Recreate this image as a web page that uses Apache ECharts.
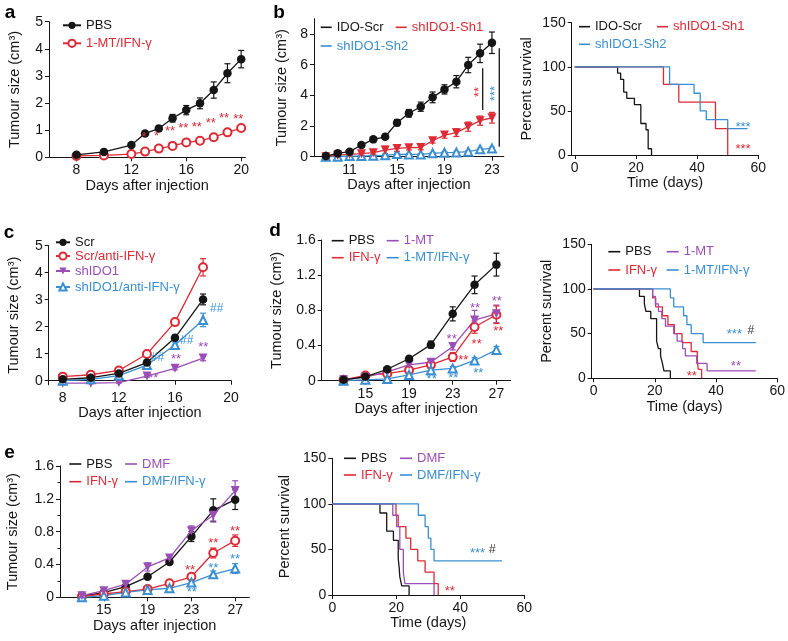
<!DOCTYPE html>
<html><head><meta charset="utf-8">
<script src="https://cdn.jsdelivr.net/npm/echarts@6/dist/echarts.min.js"></script>
<style>html,body{margin:0;padding:0;background:#fff}#c{width:788px;height:641px}</style>
</head><body><div id="c"></div>
<script>
// ---------------- DATA ----------------
// panel a
const aDays = [8, 10, 12, 13, 14, 15, 16, 17, 18, 19, 20];
const aPBS = [0.09, 0.2, 0.45, 0.88, 1.06, 1.44, 1.74, 1.99, 2.48, 3.1, 3.62];
const aPBSErr = [0.03, 0.04, 0.05, 0.07, 0.1, 0.14, 0.17, 0.2, 0.3, 0.35, 0.32];
const aMT = [0.05, 0.07, 0.12, 0.21, 0.32, 0.42, 0.55, 0.61, 0.74, 0.92, 1.08];
const aMTErr = [0.02, 0.02, 0.03, 0.05, 0.05, 0.05, 0.05, 0.06, 0.07, 0.08, 0.1];
const aStars = [[12.92, 0.85, '*'], [13.84, 0.89, '*'], [14.81, 1.07, '**'], [15.78, 1.19, '**'], [16.76, 1.23, '**'], [17.78, 1.35, '**'], [18.75, 1.56, '**'], [19.79, 1.5, '**']];
const aXTicks = [8, 12, 16, 20];
const aYTicks = [0, 1, 2, 3, 4, 5];

// panel b (growth)
const bDays = [9, 10, 11, 12, 13, 14, 15, 16, 17, 18, 19, 20, 21, 22, 23];
const bScr = [0.04, 0.22, 0.33, 0.76, 1.13, 1.3, 2.22, 2.83, 3.26, 3.87, 4.39, 4.89, 5.98, 6.74, 7.43];
const bScrErr = [0.05, 0.08, 0.1, 0.1, 0.12, 0.15, 0.2, 0.25, 0.3, 0.35, 0.3, 0.4, 0.5, 0.6, 0.7];
const bSh1 = [0.0, 0.1, 0.15, 0.2, 0.26, 0.43, 0.54, 0.59, 0.6, 1.04, 1.41, 1.57, 1.96, 2.35, 2.54];
const bSh1Err = [0.05, 0.05, 0.08, 0.1, 0.1, 0.25, 0.2, 0.15, 0.15, 0.15, 0.2, 0.25, 0.3, 0.3, 0.35];
const bSh2 = [0.0, 0.0, 0.04, 0.04, 0.07, 0.09, 0.17, 0.15, 0.15, 0.22, 0.26, 0.28, 0.33, 0.48, 0.54];
const bSh2Err = [0.03, 0.03, 0.03, 0.03, 0.04, 0.04, 0.05, 0.05, 0.05, 0.05, 0.06, 0.06, 0.06, 0.07, 0.08];
const bSigLines = [[22.22, 3.05, 5.77], [23.62, 0.65, 7.07]];
const bStarsRed = [[21.66, 4.22, '**']];
const bStarsBlue = [[23.07, 4.12, '***']];
const bXTicks = [11, 15, 19, 23];
const bYTicks = [0, 2, 4, 6, 8];

// panel b (survival)
const bsScrT = [0, 14, 15, 16, 17, 19.5, 21.6, 23.3, 24, 25.1];
const bsScrV = [100, 92.9, 85.7, 71.4, 64.3, 57.1, 35.7, 28.6, 7.1, 0];
const bsSh1T = [0, 29, 34, 46, 50];
const bsSh1V = [100, 80, 60, 30, 0];
const bsSh2T = [0, 31, 39, 41, 43, 50, 56.5];
const bsSh2V = [100, 80, 70, 50, 40, 30, 30];
const bsStarsBlue = [[55, 35.1, '***']];
const bsStarsRed = [[55, 9.4, '***']];
const survXTicks = [0, 20, 40, 60];
const survYTicks = [0, 50, 100, 150];

// panel c
const cDays = [8, 10, 12, 14, 16, 18];
const cScr = [0.05, 0.11, 0.27, 0.67, 1.59, 3.01];
const cScrErr = [0.03, 0.03, 0.05, 0.08, 0.1, 0.2];
const cScrAnti = [0.15, 0.22, 0.38, 0.99, 2.17, 4.2];
const cScrAntiErr = [0.03, 0.04, 0.05, 0.08, 0.12, 0.32];
const cSh = [-0.09, -0.09, -0.07, 0.17, 0.46, 0.84];
const cShErr = [0.02, 0.02, 0.02, 0.04, 0.06, 0.1];
const cShAnti = [0.0, 0.05, 0.19, 0.58, 1.32, 2.25];
const cShAntiErr = [0.03, 0.03, 0.05, 0.1, 0.12, 0.25];
const cHash = [[14.75, 0.85, '##'], [16.84, 1.47, '##'], [18.97, 2.67, '##']];
const cStars = [[14.46, 0.19, '**'], [16.07, 0.91, '**'], [18.02, 1.35, '**']];
const cXTicks = [8, 12, 16, 20];
const cYTicks = [0, 1, 2, 3, 4, 5];

// panel d (growth)
const dDays = [13, 15, 17, 19, 21, 23, 25, 27];
const dPBS = [0.01, 0.045, 0.13, 0.25, 0.41, 0.76, 1.09, 1.32];
const dPBSErr = [0.005, 0.01, 0.015, 0.02, 0.04, 0.08, 0.1, 0.13];
const dMT = [0.01, 0.04, 0.1, 0.18, 0.21, 0.39, 0.69, 0.76];
const dMTErr = [0.005, 0.01, 0.02, 0.02, 0.03, 0.04, 0.11, 0.1];
const dIFN = [0.01, 0.06, 0.08, 0.12, 0.18, 0.27, 0.61, 0.75];
const dIFNErr = [0.005, 0.01, 0.01, 0.02, 0.03, 0.05, 0.07, 0.1];
const dCombo = [0.0, 0.01, 0.02, 0.065, 0.12, 0.14, 0.23, 0.35];
const dComboErr = [0.005, 0.005, 0.01, 0.01, 0.02, 0.02, 0.03, 0.04];
const dStarsP = [[22.9, 0.5, '**'], [25.04, 0.86, '**'], [27.03, 0.93, '**']];
const dStarsR = [[23.97, 0.27, '**'], [25.19, 0.45, '**'], [27.17, 0.6, '**']];
const dStarsB = [[21.07, 0.05, '**'], [23.05, 0.06, '**'], [25.34, 0.12, '**']];
const deXTicks = [15, 19, 23, 27];
const deYTicks = [0, 0.4, 0.8, 1.2, 1.6];

// panel d (survival)
const dsPBST = [0, 15, 16.6, 17.1, 18.7, 20.6, 21.2, 21.9, 22.5, 23, 25.1];
const dsPBSV = [100, 91.7, 83.3, 75, 66.7, 41.7, 33.3, 25, 16.7, 8.3, 0];
const dsMTT = [0, 19.3, 20.2, 21.2, 22.3, 23.5, 26.2, 27.3, 29.1, 30, 33.7, 37.1, 53];
const dsMTV = [100, 91.7, 83.3, 75, 66.7, 58.3, 50, 41.7, 33.3, 25, 16.7, 8.3, 8.3];
const dsIFNT = [0, 19.3, 20.3, 22.5, 24.3, 26.4, 28.9, 31.9, 33.9, 34.2, 35.3];
const dsIFNV = [100, 90, 80, 70, 60, 50, 40, 30, 20, 10, 0];
const dsComboT = [0, 25.1, 26.2, 29.4, 30.5, 31.9, 35.8, 53];
const dsComboV = [100, 90, 80, 70, 60, 50, 40, 40];
const dsStarsB = [[46, 52, '***']];
const dsHash = [[51.4, 53, '#']];
const dsStarsP = [[46.5, 16.8, '**']];
const dsStarsR = [[32.1, 5.6, '**']];

// panel e (growth)
const eDays = [13, 15, 17, 19, 21, 23, 25, 27];
const ePBS = [0.016, 0.057, 0.13, 0.25, 0.43, 0.74, 1.06, 1.19];
const ePBSErr = [0.005, 0.01, 0.02, 0.02, 0.03, 0.06, 0.14, 0.12];
const eDMF = [0.02, 0.08, 0.16, 0.37, 0.48, 0.81, 1.0, 1.3];
const eDMFErr = [0.005, 0.01, 0.02, 0.05, 0.04, 0.06, 0.07, 0.12];
const eIFN = [0.01, 0.04, 0.07, 0.1, 0.17, 0.25, 0.54, 0.69];
const eIFNErr = [0.005, 0.01, 0.01, 0.01, 0.02, 0.03, 0.06, 0.07];
const eCombo = [0.0, 0.02, 0.06, 0.09, 0.11, 0.18, 0.28, 0.35];
const eComboErr = [0.005, 0.01, 0.01, 0.01, 0.02, 0.02, 0.04, 0.06];
const eStarsR = [[22.87, 0.37, '**'], [25.0, 0.69, '**'], [26.98, 0.84, '**']];
const eStarsB = [[23.03, 0.09, '**'], [25.0, 0.39, '**'], [26.98, 0.5, '**']];

// panel e (survival)
const esPBST = [0, 14.9, 17, 19.1, 20.6, 20.9, 21.1, 21.7, 24];
const esPBSV = [100, 90, 70, 60, 40, 30, 20, 10, 0];
const esDMFT = [0, 18.9, 20.1, 21.1, 22.2, 22.7, 31.8];
const esDMFV = [100, 87.5, 75, 50, 25, 12.5, 0];
const esIFNT = [0, 19.9, 20.6, 23, 24.5, 26.7, 29, 31.8, 33.1];
const esIFNV = [100, 87.5, 75, 62.5, 50, 37.5, 25, 12.5, 0];
const esComboT = [0, 26.9, 29, 30, 30.8, 31.8, 53];
const esComboV = [100, 87.5, 75, 62.5, 50, 37.5, 37.5];
const esStarsB = [[45.4, 49.4, '***']];
const esHash = [[50, 50, '#']];
const esStarsR = [[36.7, 7.3, '**']];

// ---------------- STYLE / LAYOUT ----------------
const F = "'Liberation Sans', Arial, Helvetica, sans-serif";
const K = '#151515', R = '#dd2a35', B = '#3a8fd2', P = '#9b4fb6';
const AX = '#151515';
const TUM = 'Tumour size (cm³)';
const DAYS = 'Days after injection';

const layout = [
  {left: 49, top: 21.7, width: 196.3, height: 135.6, xmin: 6, xmax: 20.3, xt: aXTicks, ymin: 0, ymax: 5, yt: aYTicks, xname: DAYS, yname: TUM, xgap: 20, ygap: 27},
  {left: 314, top: 18.7, width: 189.8, height: 138, xmin: 8, xmax: 24, xt: bXTicks, ymin: 0, ymax: 9, yt: bYTicks, xname: DAYS, yname: TUM, xgap: 20, ygap: 25},
  {left: 571.7, top: 22.7, width: 186.6, height: 132.3, xmin: -1, xmax: 60, xt: survXTicks, ymin: 0, ymax: 150, yt: survYTicks, xname: 'Time (days)', yname: 'Percent survival', xgap: 20, ygap: 37},
  {left: 48.7, top: 245.7, width: 182.4, height: 139.05, xmin: 7, xmax: 20, xt: cXTicks, ymin: -0.15, ymax: 5, yt: cYTicks, xname: DAYS, yname: TUM, xgap: 20, ygap: 27, xOnZero: true},
  {left: 321.7, top: 240, width: 188.9, height: 140.7, xmin: 11, xmax: 28.3, xt: deXTicks, ymin: 0, ymax: 1.6, yt: deYTicks, xname: DAYS, yname: TUM, xgap: 20, ygap: 37},
  {left: 591.7, top: 244.3, width: 188.5, height: 134, xmin: -0.6, xmax: 60, xt: survXTicks, ymin: 0, ymax: 150, yt: survYTicks, xname: 'Time (days)', yname: 'Percent survival', xgap: 20, ygap: 37},
  {left: 60, top: 466, width: 189.4, height: 131.3, xmin: 11, xmax: 28.3, xt: deXTicks, ymin: 0, ymax: 1.6, yt: deYTicks, xname: DAYS, yname: TUM, xgap: 20, ygap: 39.5, yminor: 0.4},
  {left: 332.3, top: 458.3, width: 192, height: 136.7, xmin: 0, xmax: 60, xt: survXTicks, ymin: 0, ymax: 150, yt: survYTicks, xname: 'Time (days)', yname: 'Percent survival', xgap: 20, ygap: 40}
];

const grids = [], xAxes = [], yAxes = [];
layout.forEach((L, i) => {
  grids.push({left: L.left, top: L.top, width: L.width, height: L.height, containLabel: false});
  const nameStyle = {fontFamily: F, fontSize: 14.5, color: AX};
  const lab = {margin: 6, fontFamily: F, fontSize: 14, color: AX};
  xAxes.push({
    type: 'value', gridIndex: i, min: L.xmin, max: L.xmax,
    name: L.xname, nameLocation: 'middle', nameGap: L.xgap, nameTextStyle: nameStyle,
    axisLine: {show: true, onZero: !!L.xOnZero, lineStyle: {color: AX, width: 1}},
    axisTick: {show: true, customValues: L.xt, length: 4, lineStyle: {color: AX, width: 1}},
    axisLabel: Object.assign({customValues: L.xt}, lab),
    splitLine: {show: false}
  });
  const y = {
    type: 'value', gridIndex: i, min: L.ymin, max: L.ymax,
    name: L.yname, nameLocation: 'middle', nameGap: L.ygap, nameTextStyle: nameStyle,
    axisLine: {show: true, onZero: false, lineStyle: {color: AX, width: 1}},
    axisTick: {show: true, customValues: L.yt, length: 4, lineStyle: {color: AX, width: 1}},
    axisLabel: Object.assign({customValues: L.yt}, lab),
    splitLine: {show: false}
  };
  if (L.yminor) {
    y.interval = L.yminor;
    y.axisTick = {show: true, length: 4, lineStyle: {color: AX, width: 1}};
    y.axisLabel = Object.assign({}, lab);
    y.minorTick = {show: true, splitNumber: 2, length: 2.5, lineStyle: {color: AX, width: 1}};
  }
  yAxes.push(y);
});

// ---------------- SERIES ----------------
const series = [];
const pts = (xs, ys) => xs.map((x, i) => [x, ys[i]]);
const SYM = {
  dot: {s: 'circle', size: 8.5, empty: false},
  ring: {s: 'emptyCircle', size: 8, empty: true},
  down: {s: 'triangle', size: 9, rot: 180, empty: false},
  tri: {s: 'emptyTriangle', size: 8, empty: true}
};
function addLine(gi, name, xs, ys, color, sym, z) {
  series.push({
    type: 'line', name, xAxisIndex: gi, yAxisIndex: gi, data: pts(xs, ys),
    symbol: sym.s, symbolSize: sym.size, symbolRotate: sym.rot || 0, showSymbol: true,
    lineStyle: {color, width: 1.3},
    itemStyle: {color, borderColor: color, borderWidth: sym.empty ? 1 : 0},
    emphasis: {disabled: true}, z: z || 3, animation: false, clip: false
  });
}
function addErr(gi, xs, ys, es, color) {
  series.push({
    type: 'custom', xAxisIndex: gi, yAxisIndex: gi, silent: true, animation: false, z: 2,
    data: xs.map((x, i) => [x, ys[i], es[i]]), encode: {x: 0, y: 1},
    renderItem: (params, api) => {
      const x = api.value(0), yv = api.value(1), e = api.value(2);
      const p0 = api.coord([x, yv - e]), p1 = api.coord([x, yv + e]);
      const st = {stroke: color, lineWidth: 1.2, fill: null};
      const cap = 3;
      return {type: 'group', children: [
        {type: 'line', shape: {x1: p0[0], y1: p0[1], x2: p1[0], y2: p1[1]}, style: st},
        {type: 'line', shape: {x1: p1[0] - cap, y1: p1[1], x2: p1[0] + cap, y2: p1[1]}, style: st},
        {type: 'line', shape: {x1: p0[0] - cap, y1: p0[1], x2: p0[0] + cap, y2: p0[1]}, style: st}
      ]};
    }
  });
}
function addSurv(gi, name, ts, vs, color, z) {
  series.push({
    type: 'line', name, xAxisIndex: gi, yAxisIndex: gi, step: 'end', data: pts(ts, vs),
    symbol: 'none', lineStyle: {color, width: 1.3}, itemStyle: {color},
    emphasis: {disabled: true}, animation: false, z: z || 3
  });
}
function addText(gi, arr, color, opt) {
  opt = opt || {};
  series.push({
    type: 'custom', xAxisIndex: gi, yAxisIndex: gi, silent: true, animation: false, z: 6,
    data: arr.map(d => [d[0], d[1]]), encode: {x: 0, y: 1},
    renderItem: (params, api) => {
      const d = arr[params.dataIndex];
      const p = api.coord([d[0], d[1]]);
      const size = opt.size || 13;
      return {type: 'text', x: p[0] + (opt.dx || 0), y: p[1] + (opt.dy || 0), rotation: opt.rot || 0,
        style: {text: d[2], fill: color, font: size + 'px ' + F, align: 'center', verticalAlign: 'middle',
          textAlign: 'center', textVerticalAlign: 'middle'}};
    }
  });
}
function addVLines(gi, arr, color) {
  series.push({
    type: 'custom', xAxisIndex: gi, yAxisIndex: gi, silent: true, animation: false, z: 5,
    data: arr.map(d => [d[0], d[1], d[2]]), encode: {x: 0, y: [1, 2]},
    renderItem: (params, api) => {
      const p0 = api.coord([api.value(0), api.value(1)]);
      const p1 = api.coord([api.value(0), api.value(2)]);
      return {type: 'line', shape: {x1: p0[0], y1: p0[1], x2: p1[0], y2: p1[1]}, style: {stroke: color, lineWidth: 1.3}};
    }
  });
}
const STAR_DY = 3;

// a
addErr(0, aDays, aPBS, aPBSErr, K);
addErr(0, aDays, aMT, aMTErr, R);
addLine(0, 'a|PBS', aDays, aPBS, K, SYM.dot, 4);
addLine(0, 'a|1-MT/IFN-γ', aDays, aMT, R, SYM.ring, 3);
addText(0, aStars, R, {dy: STAR_DY, size: 13});

// b growth
addErr(1, bDays, bSh2, bSh2Err, B);
addErr(1, bDays, bSh1, bSh1Err, R);
addErr(1, bDays, bScr, bScrErr, K);
addLine(1, 'b|shIDO1-Sh2', bDays, bSh2, B, SYM.tri, 3);
addLine(1, 'b|shIDO1-Sh1', bDays, bSh1, R, SYM.down, 3);
addLine(1, 'b|IDO-Scr', bDays, bScr, K, SYM.dot, 4);
addVLines(1, bSigLines, K);
addText(1, bStarsRed, R, {rot: Math.PI / 2, dx: 3, size: 13});
addText(1, bStarsBlue, B, {rot: Math.PI / 2, dx: 3, size: 13});

// b survival
addSurv(2, 'bs|IDO-Scr', bsScrT, bsScrV, K);
addSurv(2, 'bs|shIDO1-Sh1', bsSh1T, bsSh1V, R);
addSurv(2, 'bs|shIDO1-Sh2', bsSh2T, bsSh2V, B, 4);
addText(2, bsStarsBlue, B, {dy: STAR_DY});
addText(2, bsStarsRed, R, {dy: STAR_DY});

// c
addErr(3, cDays, cScrAnti, cScrAntiErr, R);
addErr(3, cDays, cScr, cScrErr, K);
addErr(3, cDays, cShAnti, cShAntiErr, B);
addErr(3, cDays, cSh, cShErr, P);
addLine(3, 'c|Scr', cDays, cScr, K, SYM.dot, 4);
addLine(3, 'c|Scr/anti-IFN-γ', cDays, cScrAnti, R, SYM.ring, 3);
addLine(3, 'c|shIDO1', cDays, cSh, P, SYM.down, 3);
addLine(3, 'c|shIDO1/anti-IFN-γ', cDays, cShAnti, B, SYM.tri, 3);
addText(3, cHash, B, {size: 12});
addText(3, cStars, P, {dy: STAR_DY});

// d growth
addErr(4, dDays, dPBS, dPBSErr, K);
addErr(4, dDays, dMT, dMTErr, P);
addErr(4, dDays, dIFN, dIFNErr, R);
addErr(4, dDays, dCombo, dComboErr, B);
addLine(4, 'd|PBS', dDays, dPBS, K, SYM.dot, 4);
addLine(4, 'd|IFN-γ', dDays, dIFN, R, SYM.ring, 3);
addLine(4, 'd|1-MT', dDays, dMT, P, SYM.down, 3);
addLine(4, 'd|1-MT/IFN-γ', dDays, dCombo, B, SYM.tri, 3);
addText(4, dStarsP, P, {dy: STAR_DY});
addText(4, dStarsR, R, {dy: STAR_DY});
addText(4, dStarsB, B, {dy: STAR_DY});

// d survival
addSurv(5, 'ds|PBS', dsPBST, dsPBSV, K);
addSurv(5, 'ds|IFN-γ', dsIFNT, dsIFNV, R);
addSurv(5, 'ds|1-MT', dsMTT, dsMTV, P);
addSurv(5, 'ds|1-MT/IFN-γ', dsComboT, dsComboV, B);
addText(5, dsStarsB, B, {dy: STAR_DY});
addText(5, dsHash, '#333', {size: 12});
addText(5, dsStarsP, P, {dy: STAR_DY});
addText(5, dsStarsR, R, {dy: STAR_DY});

// e growth
addErr(6, eDays, ePBS, ePBSErr, K);
addErr(6, eDays, eDMF, eDMFErr, P);
addErr(6, eDays, eIFN, eIFNErr, R);
addErr(6, eDays, eCombo, eComboErr, B);
addLine(6, 'e|PBS', eDays, ePBS, K, SYM.dot, 3);
addLine(6, 'e|DMF', eDays, eDMF, P, SYM.down, 4);
addLine(6, 'e|IFN-γ', eDays, eIFN, R, SYM.ring, 3);
addLine(6, 'e|DMF/IFN-γ', eDays, eCombo, B, SYM.tri, 3);
addText(6, eStarsR, R, {dy: STAR_DY});
addText(6, eStarsB, B, {dy: STAR_DY});

// e survival
addSurv(7, 'es|PBS', esPBST, esPBSV, K);
addSurv(7, 'es|IFN-γ', esIFNT, esIFNV, R);
addSurv(7, 'es|DMF', esDMFT, esDMFV, P);
addSurv(7, 'es|DMF/IFN-γ', esComboT, esComboV, B);
addText(7, esStarsB, B, {dy: STAR_DY});
addText(7, esHash, '#333', {size: 12});
addText(7, esStarsR, R, {dy: STAR_DY});

// ---------------- LEGENDS ----------------
const legends = [];
function leg(name, color, left, cy, kind, w) {
  const L = {
    show: true, left, top: cy - 7, orient: 'horizontal', padding: 0, itemGap: 0,
    selectedMode: false, data: [{name, textStyle: {color}}],
    formatter: n => n.split('|')[1],
    textStyle: {fontFamily: F, fontSize: 13, color, lineHeight: 14},
    itemWidth: w, itemHeight: kind === 'line' ? 1.6 : 9
  };
  if (kind === 'line') { L.icon = 'rect'; L.itemStyle = {borderWidth: 0}; }
  legends.push(L);
}
leg('a|PBS', K, 62, 25.3, 'sym', 18);
leg('a|1-MT/IFN-γ', R, 62, 43.3, 'sym', 18);
leg('b|IDO-Scr', K, 320.7, 27.3, 'line', 11);
leg('b|shIDO1-Sh1', R, 395.7, 27.3, 'line', 11);
leg('b|shIDO1-Sh2', B, 320.7, 46, 'line', 11);
leg('bs|IDO-Scr', K, 579, 26.7, 'line', 11);
leg('bs|shIDO1-Sh1', R, 657, 26.7, 'line', 11);
leg('bs|shIDO1-Sh2', B, 579, 44.3, 'line', 11);
leg('c|Scr', K, 55, 242.3, 'sym', 14);
leg('c|Scr/anti-IFN-γ', R, 55, 256, 'sym', 14);
leg('c|shIDO1', P, 55, 271, 'sym', 14);
leg('c|shIDO1/anti-IFN-γ', B, 55, 287, 'sym', 14);
leg('d|PBS', K, 331.7, 240.7, 'line', 12);
leg('d|1-MT', P, 386.7, 240.7, 'line', 12);
leg('d|IFN-γ', R, 331.7, 257.7, 'line', 12);
leg('d|1-MT/IFN-γ', B, 386.7, 257.7, 'line', 12);
leg('ds|PBS', K, 608.3, 251.7, 'line', 12);
leg('ds|1-MT', P, 666.7, 251.7, 'line', 12);
leg('ds|IFN-γ', R, 608.3, 270, 'line', 12);
leg('ds|1-MT/IFN-γ', B, 666.7, 270, 'line', 12);
leg('e|PBS', K, 69.3, 464, 'line', 12);
leg('e|DMF', P, 125, 464, 'line', 12);
leg('e|IFN-γ', R, 69.3, 481.7, 'line', 12);
leg('e|DMF/IFN-γ', B, 125, 481.7, 'line', 12);
leg('es|PBS', K, 344, 458.3, 'line', 12);
leg('es|DMF', P, 400, 458.3, 'line', 12);
leg('es|IFN-γ', R, 344, 475, 'line', 12);
leg('es|DMF/IFN-γ', B, 400, 475, 'line', 12);

// ---------------- PANEL LETTERS ----------------
const letterFont = 'bold 19px ' + F;
const letters = [['a', 10, 13], ['b', 279, 12.5], ['c', 9, 233], ['d', 275, 231], ['e', 9.5, 453]];
const graphic = letters.map(l => ({
  type: 'text', x: l[1], y: l[2], silent: true,
  style: {text: l[0], font: letterFont, fill: '#000', align: 'center', verticalAlign: 'middle'}
}));

const chart = echarts.init(document.getElementById('c'), null, {renderer: 'canvas'});
chart.setOption({
  animation: false,
  backgroundColor: '#fff',
  textStyle: {fontFamily: F},
  grid: grids, xAxis: xAxes, yAxis: yAxes,
  legend: legends, series, graphic
});
</script></body></html>
